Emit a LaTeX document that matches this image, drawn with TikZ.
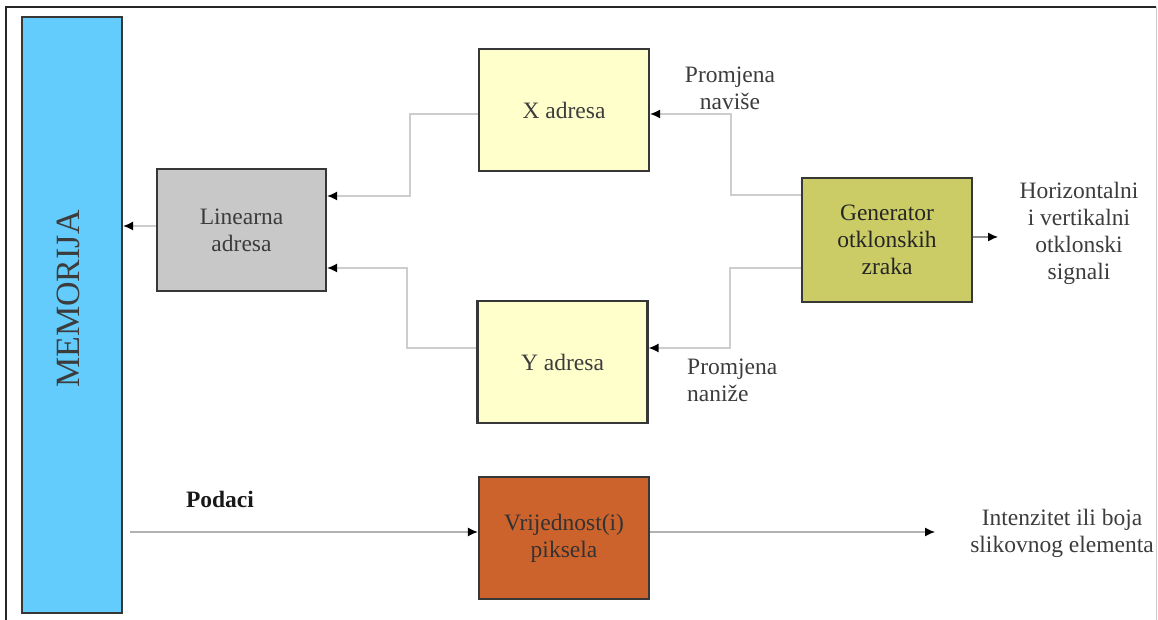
\documentclass[tikz,border=0pt]{standalone}
\usepackage{fontspec}
\setmainfont{Liberation Serif}
\usetikzlibrary{arrows.meta, positioning}
\definecolor{memblue}{RGB}{100,204,252}
\definecolor{lingray}{RGB}{200,200,200}
\definecolor{adryellow}{RGB}{255,255,204}
\definecolor{genolive}{RGB}{204,204,102}
\definecolor{pixorange}{RGB}{204,98,44}
\definecolor{boxline}{RGB}{55,55,55}
\definecolor{textgray}{RGB}{60,60,60}
\definecolor{linegray}{RGB}{205,205,205}

\begin{document}
\begin{tikzpicture}[x=1pt, y=1pt,
  blok/.style={draw=boxline, line width=2.2pt, font=\fontsize{23.5}{27}\selectfont, text=textgray, align=center, inner sep=0pt, minimum width=170pt, minimum height=122pt},
  memblok/.style={blok, fill=memblue, minimum width=100pt, minimum height=596pt},
  linblok/.style={blok, fill=lingray, minimum width=169pt},
  adrblok/.style={blok, fill=adryellow},
  genblok/.style={blok, fill=genolive, minimum height=124pt, text=black!85},
  pixblok/.style={blok, fill=pixorange, text=black!80},
  opis/.style={font=\fontsize{23.5}{27}\selectfont, text=textgray, align=center, inner sep=0pt},
  veza/.style={draw=linegray, line width=1.3pt, -{Latex[length=10pt, width=9pt, color=black]}},
]
\useasboundingbox (0,0) rectangle (1158,620);

% Frame
\draw[black!85, line width=1.2pt] (6,0) -- (6,613) -- (1156,613);
\draw[black!20, line width=1pt] (1156,613) -- (1156,0);

% Memory column
\node[memblok] (mem) at (72,305) {};
\node[rotate=90, font=\fontsize{34}{34}\selectfont, text=textgray, inner sep=0pt] (memnaziv) at (68,321) {MEMORIJA};

% Address blocks
\node[linblok] (lin) at (241.5,390) {Linearna\\adresa};
\node[adrblok] (xadr) at (564,510) {X adresa};
\node[adrblok] (yadr) at (562.5,258) {Y adresa};
\node[genblok] (gen) at (887,380) {Generator\\otklonskih\\zraka};

% Pixel value block
\node[pixblok] (pix) at (564,82) {Vrijednost(i)\\piksela};

% Labels
\node[opis] (navise) at (730,532) {Promjena\\naviše};
\node[opis, align=left, anchor=west] (nanize) at (687,240) {Promjena\\naniže};
\node[opis] (signali) at (1079,387) {Horizontalni\\i vertikalni\\otklonski\\signali};
\node[opis] (intenz) at (1062,87) {Intenzitet ili boja\\slikovnog elementa};
\node[opis, font=\fontsize{23.5}{27}\selectfont\bfseries, text=black!90] (podaci) at (220,121) {Podaci};

% Free ends
\coordinate (genizlaz) at (998,383);
\coordinate (podulaz) at (130,88);
\coordinate (pixizlaz) at (935,88);

% Connectors
\draw[veza] ([yshift=4pt]lin.west) -- (mem.east |- 0,394);
\draw[veza] (xadr.west |- 0,506) -| (410,424) -- (lin.east |- 0,424);
\draw[veza] (yadr.west |- 0,272) -| (407,352) -- (lin.east |- 0,352);
\draw[veza] (gen.west |- 0,425) -| (731,506) -- (xadr.east |- 0,506);
\draw[veza] (gen.west |- 0,352) -| (730,272) -- (yadr.east |- 0,272);
\draw[veza, draw=black!45] (gen.east |- 0,383) -- (genizlaz);
\draw[veza, draw=black!30] (podulaz) -- (pix.west |- 0,88);
\draw[veza, draw=black!30] (pix.east |- 0,88) -- (pixizlaz);
\end{tikzpicture}
\end{document}
